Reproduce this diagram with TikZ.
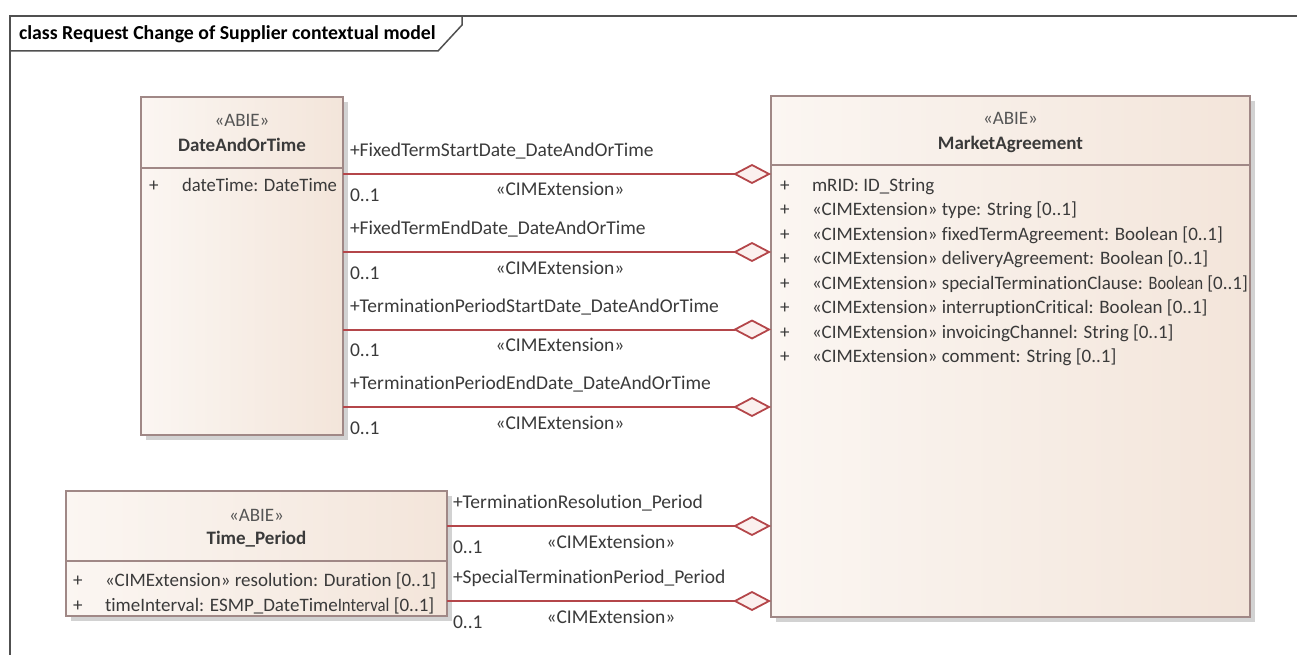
\documentclass[tikz,border=0pt]{standalone}
\usepackage{fontspec}
\setmainfont{Carlito}[Ligatures={NoCommon}]
\usetikzlibrary{arrows.meta,calc}
\definecolor{linkred}{HTML}{B4464A}
\definecolor{boxborder}{HTML}{A08886}
\definecolor{boxleft}{HTML}{FBF6F2}
\definecolor{boxright}{HTML}{F3E5DA}
\definecolor{txt}{HTML}{3A3A3A}
\definecolor{stereo}{HTML}{555555}
\definecolor{shadowgray}{HTML}{D2D2D2}
\definecolor{framegray}{HTML}{505050}
\definecolor{diamfill}{HTML}{FBF0EE}
\tikzset{
  umlbox/.style={draw=boxborder, line width=1.5pt, left color=boxleft, right color=boxright,
    anchor=north west, inner sep=0pt, outer sep=0pt},
  boxshadow/.style={fill=shadowgray},
  sepline/.style={draw=boxborder, line width=1.5pt},
  txtnode/.style={inner sep=0pt, outer sep=0pt, text=txt, anchor=base west},
  ctext/.style={inner sep=0pt, outer sep=0pt, text=txt, anchor=base},
  stereotxt/.style={inner sep=0pt, outer sep=0pt, text=stereo, anchor=base},
  assoc/.style={draw=linkred, line width=2pt,
    -{Diamond[length=38pt, width=20pt, fill=diamfill, line width=1.8pt]}},
  lbl/.style={txtnode, font=\fontsize{19.5}{24}\selectfont},
}
\begin{document}
\begin{tikzpicture}[x=1pt, y=-1pt, font=\fontsize{19}{24}\selectfont]
\useasboundingbox (0,0) rectangle (1297,655);
% frame
\draw[framegray, line width=1.5pt] (10,655) -- (10,16) -- (1297,16);
\draw[framegray, line width=1.5pt] (10,51) -- (438,51) -- (462,25) -- (462,16);
\node[txtnode, font=\fontsize{19.8}{24}\selectfont\bfseries, text=black] (title) at (19,39.5) {class Request Change of Supplier contextual model};

% shadows
\fill[boxshadow] (146,102) rectangle (348,440);
\fill[boxshadow] (776,101) rectangle (1255,622);
\fill[boxshadow] (71,496) rectangle (452,621);

% DateAndOrTime
\node[umlbox, minimum width=202pt, minimum height=338pt] (dt) at (141,97) {};
\coordinate (dtsep) at (0,168);
\draw[sepline] (dt.west |- dtsep) -- (dt.east |- dtsep);
\node[stereotxt] (dtst) at (242,126.5) {«ABIE»};
\node[ctext, font=\fontsize{19}{24}\selectfont\bfseries] (dtname) at (242,151.5) {DateAndOrTime};
\node[txtnode] (dtp1) at (149,192) {+};
\node[txtnode] (dta1) at (182,192) {\scalebox{0.98}[1]{dateTime: DateTime}};

% MarketAgreement
\node[umlbox, minimum width=479pt, minimum height=521pt] (ma) at (771,96) {};
\coordinate (masep) at (0,165);
\draw[sepline] (ma.west |- masep) -- (ma.east |- masep);
\node[stereotxt] (mast) at (1010.5,125) {«ABIE»};
\node[ctext, font=\fontsize{19}{24}\selectfont\bfseries] (maname) at (1010.5,150) {MarketAgreement};
\foreach \i/\t in {0/{mRID: ID\_String},
  1/{«CIMExtension» type: String [0..1]},
  2/{«CIMExtension» fixedTermAgreement: Boolean [0..1]},
  3/{«CIMExtension» deliveryAgreement: Boolean [0..1]},
  4/{«CIMExtension» specialTerminationClause: \scalebox{0.86}[1]{Boolean} [0..1]},
  5/{«CIMExtension» interruptionCritical: Boolean [0..1]},
  6/{«CIMExtension» invoicingChannel: String [0..1]},
  7/{«CIMExtension» comment: String [0..1]}}{
  \node[txtnode] (map\i) at (780,191+24.5*\i) {+};
  \node[txtnode] (maa\i) at (812,191+24.5*\i) {\t};
}

% Time_Period
\node[umlbox, minimum width=381pt, minimum height=125pt] (tp) at (66,491) {};
\coordinate (tpsep) at (0,561);
\draw[sepline] (tp.west |- tpsep) -- (tp.east |- tpsep);
\node[stereotxt] (tpst) at (256.5,521) {«ABIE»};
\node[ctext, font=\fontsize{19}{24}\selectfont\bfseries] (tpname) at (256.5,544) {Time\_Period};
\node[txtnode] (tpp1) at (73,586) {+};
\node[txtnode] (tpa1) at (105,586) {«CIMExtension» resolution: Duration [0..1]};
\node[txtnode] (tpp2) at (73,611) {+};
\node[txtnode] (tpa2) at (105,611) {timeInterval: ESMP\_DateTime\scalebox{0.88}[1]{Interval} [0..1]};

% associations from DateAndOrTime
\foreach \n/\y/\lab in {1/174/{+FixedTermStartDate\_DateAndOrTime},
  2/252/{+FixedTermEndDate\_DateAndOrTime},
  3/329.5/{+TerminationPeriodStartDate\_DateAndOrTime},
  4/407/{+TerminationPeriodEndDate\_DateAndOrTime}}{
  \coordinate (r\n) at (0,\y);
  \draw[assoc] (dt.east |- r\n) -- (ma.west |- r\n);
  \node[lbl] (rl\n) at (350,\y-17.5) {\lab};
  \node[lbl] (rm\n) at (350,\y+27) {0..1};
  \node[ctext, font=\fontsize{19.5}{24}\selectfont] (rs\n) at (560,\y+22) {«CIMExtension»};
}

% associations from Time_Period
\foreach \n/\y/\lab in {5/526/{+TerminationResolution\_Period},
  6/601/{+SpecialTerminationPeriod\_Period}}{
  \coordinate (r\n) at (0,\y);
  \draw[assoc] (tp.east |- r\n) -- (ma.west |- r\n);
  \node[lbl] (rl\n) at (453,\y-17.5) {\lab};
  \node[lbl] (rm\n) at (453,\y+27) {0..1};
  \node[ctext, font=\fontsize{19.5}{24}\selectfont] (rs\n) at (611,\y+22) {«CIMExtension»};
}
\end{tikzpicture}
\end{document}
